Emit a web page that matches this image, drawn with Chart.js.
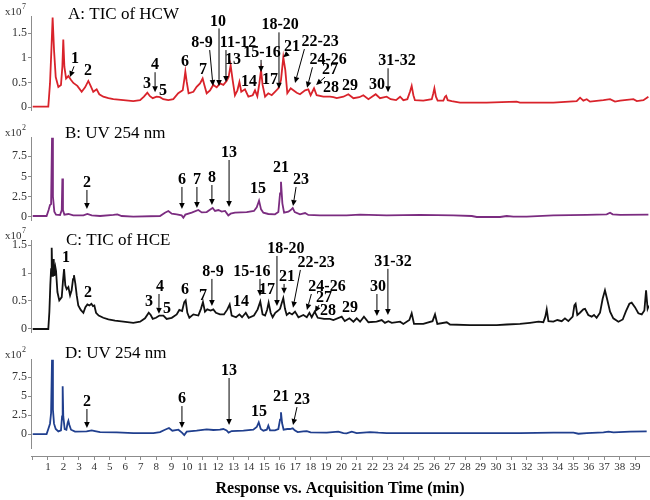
<!DOCTYPE html>
<html>
<head>
<meta charset="utf-8">
<script src="https://cdn.jsdelivr.net/npm/chart.js@4/dist/chart.umd.min.js"></script>
<style>
  body { margin: 0; background: #fff; }
  #wrap { position: relative; width: 650px; height: 500px; }
  #wrap canvas { position: absolute; left: 0; top: 0; }
</style>
</head>
<body>
<div id="wrap">
  <canvas id="chartA" width="650" height="500"></canvas>
  <canvas id="chartB" width="650" height="500"></canvas>
  <canvas id="chartC" width="650" height="500"></canvas>
  <canvas id="chartD" width="650" height="500"></canvas>
</div>
<script>
// retention time ticks (min)
const timeTicks = [0, 1, 2, 3, 4, 5, 6, 7, 8, 9, 10, 11, 12, 13, 14, 15, 16, 17, 18, 19, 20,
  21, 22, 23, 24, 25, 26, 27, 28, 29, 30, 31, 32, 33, 34, 35, 36, 37, 38, 39];
const ticTicks = [0, 0.5, 1, 1.5];   // x10^7
const uvTicks = [0, 2.5, 5, 7.5];    // x10^2

// [time, response]
const ticHCW = [[0.01,0.01],[1.02,0.01],[1.13,0.48],[1.22,1.16],[1.30,1.82],[1.39,1.16],[1.50,0.61],[1.67,0.41],
  [1.84,0.45],[1.93,0.82],[1.99,1.37],[2.06,0.82],[2.17,0.58],[2.32,0.63],[2.47,0.56],[2.64,0.49],[2.90,0.43],
  [3.18,0.31],[3.40,0.40],[3.61,0.53],[3.76,0.43],[3.93,0.31],[4.15,0.36],[4.32,0.26],[4.58,0.21],[4.91,0.18],
  [5.23,0.16],[5.88,0.14],[6.52,0.12],[6.96,0.14],[7.21,0.21],[7.43,0.29],[7.60,0.22],[7.78,0.18],[8.03,0.21],
  [8.25,0.20],[8.46,0.16],[8.79,0.14],[9.11,0.16],[9.43,0.28],[9.72,0.34],[9.82,0.55],[9.89,0.72],[9.98,0.51],
  [10.10,0.28],[10.41,0.31],[10.62,0.41],[10.84,0.48],[11.01,0.58],[11.12,0.45],[11.27,0.28],[11.49,0.34],
  [11.70,0.45],[11.92,0.40],[12.13,0.48],[12.35,0.45],[12.56,0.53],[12.69,0.61],[12.82,0.85],[12.95,0.55],
  [13.10,0.24],[13.26,0.34],[13.39,0.51],[13.51,0.31],[13.75,0.36],[13.97,0.21],[14.25,0.24],[14.40,0.34],
  [14.55,0.22],[14.68,0.48],[14.79,0.75],[14.89,0.45],[15.05,0.21],[15.26,0.28],[15.48,0.24],[15.69,0.31],
  [15.91,0.38],[16.08,0.55],[16.23,1.01],[16.36,0.75],[16.49,0.28],[16.71,0.38],[16.88,0.34],[17.10,0.29],
  [17.31,0.26],[17.64,0.34],[17.85,0.36],[18.00,0.24],[18.22,0.38],[18.39,0.24],[18.82,0.21],[19.25,0.21],
  [19.47,0.20],[19.69,0.18],[20.12,0.21],[20.44,0.26],[20.77,0.18],[21.15,0.20],[21.41,0.24],[21.74,0.16],
  [22.21,0.26],[22.49,0.18],[22.92,0.21],[23.18,0.16],[23.53,0.14],[23.79,0.21],[24.00,0.14],[24.26,0.16],
  [24.43,0.31],[24.54,0.43],[24.65,0.24],[24.75,0.14],[25.29,0.13],[25.84,0.16],[25.94,0.28],[26.01,0.38],
  [26.11,0.21],[26.22,0.13],[26.59,0.13],[26.70,0.21],[26.77,0.23],[26.87,0.14],[27.13,0.12],[27.67,0.09],
  [29.39,0.09],[31.33,0.11],[31.55,0.09],[33.71,0.09],[35.22,0.12],[35.44,0.19],[35.65,0.13],[35.87,0.16],
  [36.08,0.11],[36.95,0.14],[37.38,0.16],[37.70,0.11],[38.03,0.13],[38.89,0.16],[39.11,0.12],[39.54,0.14],
  [39.86,0.21]];

const uvHCW = [[0.01,0.12],[0.91,0.12],[1.04,0.86],[1.13,1.48],[1.20,1.60],[1.26,9.75],[1.32,2.50],[1.41,0.66],
  [1.52,0.29],[1.78,0.25],[1.89,0.86],[1.93,4.75],[1.97,0.86],[2.06,0.29],[2.32,0.37],[2.64,0.20],[3.29,0.20],
  [3.55,0.37],[3.83,0.20],[4.37,0.12],[5.23,0.25],[5.49,0.33],[5.77,0.12],[6.52,0.04],[8.25,0.12],[8.57,0.53],
  [8.79,0.74],[9.01,0.41],[9.33,0.33],[9.65,0.20],[9.76,-0.08],[9.89,0.29],[10.30,0.53],[10.73,0.86],
  [10.95,0.57],[11.27,0.61],[11.53,0.94],[11.66,1.11],[11.81,0.74],[12.03,0.86],[12.24,0.66],[12.46,0.74],
  [12.67,0.20],[12.82,0.41],[13.10,0.53],[13.86,0.61],[14.33,0.74],[14.51,1.19],[14.66,2.01],[14.79,0.94],
  [14.94,0.53],[15.26,0.37],[15.69,0.33],[15.91,0.61],[16.02,2.91],[16.08,4.34],[16.17,1.68],[16.28,0.53],
  [16.56,0.66],[16.71,0.86],[16.84,1.11],[16.97,0.61],[17.31,0.33],[17.64,0.49],[17.85,0.25],[18.60,0.20],
  [19.25,0.20],[20.33,0.20],[21.19,0.29],[22.92,0.20],[25.08,0.25],[27.24,0.20],[28.43,0.12],[28.75,0.0],
  [30.26,0.0],[30.69,0.12],[31.12,0.04],[31.98,0.04],[33.71,0.20],[35.87,0.25],[37.16,0.33],[37.38,0.53],
  [37.55,0.33],[38.03,0.25],[39.86,0.29]];

const ticHCE = [[0.01,0.0],[1.02,0.0],[1.09,0.31],[1.15,0.78],[1.20,1.07],[1.24,1.45],[1.28,0.95],[1.32,1.13],
  [1.37,1.25],[1.41,0.95],[1.48,1.10],[1.52,1.04],[1.61,0.66],[1.73,0.51],[1.89,0.57],[1.97,0.86],[2.04,1.07],
  [2.12,0.78],[2.21,0.71],[2.32,0.75],[2.43,0.60],[2.53,0.69],[2.62,0.89],[2.68,0.96],[2.77,0.81],[2.86,0.60],
  [2.96,0.42],[3.12,0.34],[3.29,0.29],[3.42,0.39],[3.55,0.44],[3.68,0.42],[3.81,0.45],[3.91,0.41],[4.00,0.42],
  [4.11,0.29],[4.28,0.24],[4.58,0.20],[4.91,0.17],[5.34,0.15],[5.88,0.13],[6.52,0.11],[6.96,0.13],[7.28,0.19],
  [7.52,0.29],[7.65,0.25],[7.78,0.18],[7.99,0.20],[8.21,0.24],[8.47,0.24],[8.68,0.18],[9.01,0.20],[9.33,0.26],
  [9.50,0.34],[9.68,0.32],[9.82,0.48],[9.91,0.51],[10.02,0.29],[10.15,0.20],[10.41,0.26],[10.73,0.24],
  [10.90,0.36],[11.03,0.48],[11.16,0.31],[11.31,0.35],[11.53,0.33],[11.70,0.35],[11.87,0.29],[12.13,0.26],
  [12.39,0.26],[12.61,0.35],[12.76,0.44],[12.89,0.24],[13.17,0.21],[13.39,0.26],[13.56,0.21],[13.80,0.29],
  [13.99,0.20],[14.33,0.24],[14.57,0.35],[14.74,0.49],[14.89,0.26],[15.05,0.24],[15.18,0.34],[15.28,0.47],
  [15.41,0.29],[15.54,0.21],[15.71,0.29],[15.86,0.32],[16.02,0.36],[16.15,0.48],[16.23,0.55],[16.34,0.36],
  [16.45,0.25],[16.62,0.29],[16.80,0.26],[16.99,0.31],[17.21,0.21],[17.53,0.25],[17.75,0.21],[17.92,0.29],
  [18.07,0.21],[18.26,0.31],[18.46,0.20],[18.87,0.18],[19.25,0.18],[19.47,0.16],[20.01,0.22],[20.21,0.14],
  [20.51,0.19],[20.77,0.13],[20.98,0.19],[21.20,0.13],[21.45,0.22],[21.74,0.12],[22.27,0.13],[22.60,0.16],
  [22.81,0.11],[23.03,0.14],[23.25,0.11],[23.79,0.13],[24.00,0.09],[24.39,0.16],[24.54,0.28],[24.69,0.09],
  [25.29,0.09],[25.89,0.14],[26.05,0.26],[26.20,0.09],[26.81,0.12],[27.02,0.08],[28.32,0.07],[30.04,0.07],
  [30.69,0.08],[31.55,0.09],[32.20,0.11],[32.75,0.13],[33.06,0.12],[33.19,0.22],[33.28,0.35],[33.39,0.14],
  [33.71,0.13],[33.97,0.16],[34.25,0.14],[34.46,0.19],[34.68,0.14],[34.96,0.22],[35.07,0.42],[35.15,0.45],
  [35.26,0.25],[35.43,0.29],[35.65,0.35],[35.76,0.36],[35.97,0.25],[36.19,0.22],[36.34,0.25],[36.51,0.20],
  [36.73,0.29],[36.90,0.54],[37.05,0.69],[37.21,0.51],[37.38,0.31],[37.59,0.19],[37.92,0.13],[38.20,0.17],
  [38.41,0.32],[38.63,0.45],[38.78,0.47],[38.99,0.39],[39.21,0.28],[39.43,0.26],[39.60,0.33],[39.71,0.69],
  [39.81,0.36],[39.90,0.42]];

const uvHCE = [[0.01,0],[0.91,0],[1.02,0.66],[1.13,1.36],[1.20,2.76],[1.26,9.78],[1.32,3.20],[1.39,1.36],
  [1.50,0.66],[1.67,0.35],[1.84,0.48],[1.91,2.32],[1.95,6.27],[1.99,2.32],[2.08,0.66],[2.19,0.57],[2.27,1.45],
  [2.32,1.75],[2.38,1.23],[2.49,0.57],[2.75,0.31],[3.50,0.35],[3.83,0.48],[4.04,0.39],[4.37,0.26],[5.45,0.22],
  [6.53,0.13],[7.82,0.13],[8.25,0.26],[8.57,0.57],[8.83,0.79],[9.05,0.44],[9.44,0.57],[9.67,0.18],[9.82,-0.13],
  [9.98,0.31],[10.62,0.44],[11.27,0.61],[11.70,0.53],[12.13,0.57],[12.35,0.66],[12.56,0.48],[12.69,0.18],
  [12.89,0.39],[13.65,0.44],[14.29,0.57],[14.51,0.92],[14.64,1.54],[14.77,0.66],[14.94,0.44],[15.16,0.57],
  [15.26,1.10],[15.37,0.48],[15.69,0.48],[15.91,0.66],[16.02,1.89],[16.08,2.85],[16.15,1.45],[16.25,0.57],
  [16.49,0.66],[16.66,0.66],[16.84,0.75],[16.97,0.48],[17.16,0.26],[17.53,0.35],[17.75,0.39],[18.00,0.22],
  [19.04,0.18],[19.79,0.31],[20.12,0.13],[20.33,0.09],[20.66,0.31],[20.98,0.13],[21.84,0.26],[22.38,0.18],
  [22.92,0.13],[25.08,0.13],[29.39,0.13],[31.55,0.13],[33.71,0.18],[35.01,0.18],[35.33,0.04],[35.87,0.13],
  [36.95,0.22],[37.28,0.31],[37.60,0.22],[38.68,0.31],[39.75,0.35]];

// peak labels: [text, label time, label value, arrow time, arrow value]
const peaksA = [
  ['1', 2.75, 0.97, 2.42, 0.61], ['2', 3.59, 0.73], ['3', 7.41, 0.47], ['4', 7.93, 0.85, 7.93, 0.30],
  ['5', 8.44, 0.32], ['6', 9.87, 0.91], ['7', 11.03, 0.75], ['8-9', 10.97, 1.30, 11.68, 0.43],
  ['10', 12.0, 1.74, 12.07, 0.43], ['11-12', 13.3, 1.30, 12.52, 0.51], ['13', 12.97, 0.95],
  ['14', 14.01, 0.51], ['15-16', 14.85, 1.10, 14.79, 0.71], ['17', 15.37, 0.55],
  ['18-20', 16.02, 1.66, 15.95, 0.37], ['21', 16.8, 1.22, 16.23, 1.01], ['22-23', 18.61, 1.32, 16.99, 0.49],
  ['24-26', 19.13, 0.95, 17.77, 0.39], ['27', 19.25, 0.75, 18.35, 0.45], ['28', 19.32, 0.39],
  ['29', 20.55, 0.43], ['30', 22.3, 0.45], ['31-32', 23.59, 0.93, 23.01, 0.30]
];
const peaksB = [
  ['2', 3.52, 4.19, 3.52, 0.99], ['6', 9.67, 4.56, 9.67, 0.99], ['7', 10.64, 4.56, 10.64, 1.1],
  ['8', 11.61, 4.8, 11.61, 1.48], ['13', 12.72, 7.88, 12.72, 1.23], ['15', 14.59, 3.45],
  ['21', 16.08, 6.03], ['23', 17.38, 4.56, 16.86, 1.35]
];
const peaksC = [
  ['1', 2.17, 1.27], ['2', 3.59, 0.64], ['3', 7.54, 0.48], ['4', 8.25, 0.75, 8.18, 0.27], ['5', 8.70, 0.36],
  ['6', 9.87, 0.70], ['7', 11.03, 0.59], ['8-9', 11.68, 1.02, 11.61, 0.41], ['14', 13.49, 0.48],
  ['15-16', 14.2, 1.02, 14.72, 0.59], ['17', 15.18, 0.70], ['18-20', 16.4, 1.43, 15.82, 0.41],
  ['21', 16.47, 0.93, 16.28, 0.63], ['22-23', 18.35, 1.18, 16.86, 0.38], ['24-26', 19.06, 0.75, 17.76, 0.34],
  ['27', 18.86, 0.55, 18.28, 0.30], ['28', 19.12, 0.32], ['29', 20.55, 0.375],
  ['30', 22.36, 0.75, 22.29, 0.23], ['31-32', 23.33, 1.20, 23.0, 0.25]
];
const peaksD = [
  ['2', 3.52, 4.21, 3.52, 0.79], ['6', 9.67, 4.6, 9.67, 0.79], ['13', 12.72, 8.29, 12.72, 1.18],
  ['15', 14.66, 2.89], ['21', 16.08, 4.87], ['23', 17.44, 4.47, 16.86, 1.18]
];

const FONT = '"Liberation Serif", "Times New Roman", serif';
const AXIS = '#8c8c8c';

const panels = [
  { id: 'chartA', title: 'A: TIC of HCW', titleX: 68, titleY: 15, exp: '7', data: ticHCW, peaks: peaksA,
    color: '#d9232b', yMin: -0.06, yMax: 1.85, yTicks: ticTicks, padTop: 16, padBottom: 390 },
  { id: 'chartB', title: 'B: UV 254 nm', titleX: 65, titleY: 134, exp: '2', data: uvHCW, peaks: peaksB,
    color: '#7b2c80', yMin: -0.37, yMax: 9.85, yTicks: uvTicks, padTop: 137, padBottom: 280 },
  { id: 'chartC', title: 'C: TIC of HCE', titleX: 66, titleY: 241, exp: '7', data: ticHCE, peaks: peaksC,
    color: '#111111', yMin: -0.054, yMax: 1.59, yTicks: ticTicks, padTop: 240, padBottom: 168 },
  { id: 'chartD', title: 'D: UV 254 nm', titleX: 65, titleY: 354, exp: '2', data: uvHCE, peaks: peaksD,
    color: '#203f8e', yMin: -2.89, yMax: 9.87, yTicks: uvTicks, padTop: 359, padBottom: 0,
    showX: true, axisEnd: -1.97 }
];

function drawArrow(ctx, sx, sy, tx, ty) {
  const a = Math.atan2(ty - sy, tx - sx);
  const len = 6, hw = 2.8;
  const bx = tx - len * Math.cos(a), by = ty - len * Math.sin(a);
  ctx.beginPath();
  ctx.moveTo(sx, sy);
  ctx.lineTo(bx, by);
  ctx.stroke();
  ctx.beginPath();
  ctx.moveTo(tx, ty);
  ctx.lineTo(bx + hw * Math.sin(a), by - hw * Math.cos(a));
  ctx.lineTo(bx - hw * Math.sin(a), by + hw * Math.cos(a));
  ctx.closePath();
  ctx.fill();
}

function decoPlugin(p) {
  return {
    id: 'deco',
    afterDraw(chart) {
      const ctx = chart.ctx, xs = chart.scales.x, ys = chart.scales.y, area = chart.chartArea;
      ctx.save();
      if (p.axisEnd != null) {
        ctx.strokeStyle = AXIS;
        ctx.lineWidth = 1;
        ctx.beginPath();
        ctx.moveTo(area.left + 0.5, ys.getPixelForValue(p.yMax));
        ctx.lineTo(area.left + 0.5, ys.getPixelForValue(p.axisEnd));
        ctx.stroke();
      }
      ctx.textBaseline = 'middle';
      ctx.textAlign = 'left';
      ctx.fillStyle = '#000';
      ctx.font = '17px ' + FONT;
      ctx.fillText(p.title, p.titleX, p.titleY);

      ctx.fillStyle = '#333';
      ctx.font = '11px ' + FONT;
      const ey = area.top - 4;
      ctx.fillText('x10', 5, ey);
      const w = ctx.measureText('x10').width;
      ctx.font = '8px ' + FONT;
      ctx.fillText(p.exp, 5 + w + 0.5, ey - 5);

      ctx.font = 'bold 16px ' + FONT;
      ctx.textAlign = 'center';
      ctx.fillStyle = '#000';
      ctx.strokeStyle = '#000';
      ctx.lineWidth = 1;
      p.peaks.forEach(([txt, lt, lv, at, av]) => {
        const lx = xs.getPixelForValue(lt), ly = ys.getPixelForValue(lv);
        ctx.fillText(txt, lx, ly);
        if (at == null) return;
        const tx = xs.getPixelForValue(at), ty = ys.getPixelForValue(av);
        const hw = Math.max(ctx.measureText(txt).width / 2 - 3, 0);
        const sx = Math.min(Math.max(tx, lx - hw), lx + hw);
        drawArrow(ctx, sx, ly + 7, tx, ty);
      });
      ctx.restore();
    }
  };
}

function makeChart(p) {
  return new Chart(document.getElementById(p.id), {
    type: 'line',
    data: {
      datasets: [{
        data: p.data.map(d => ({ x: d[0], y: d[1] })),
        borderColor: p.color,
        borderWidth: 1.8,
        pointRadius: 0,
        tension: 0,
        fill: false
      }]
    },
    options: {
      responsive: false,
      animation: false,
      devicePixelRatio: 1,
      events: [],
      layout: { padding: { top: p.padTop, bottom: p.padBottom, left: 0, right: 1 } },
      plugins: { legend: { display: false }, tooltip: { enabled: false } },
      scales: {
        x: {
          type: 'linear',
          min: -0.1,
          max: 39.9,
          display: !!p.showX,
          afterBuildTicks: s => { s.ticks = timeTicks.map(v => ({ value: v })); },
          afterFit: s => { if (p.showX) s.height = 44; },
          grid: { drawOnChartArea: false, drawTicks: true, tickLength: 4, color: AXIS },
          border: { color: AXIS },
          ticks: {
            autoSkip: false, maxRotation: 0, padding: 1, color: '#333',
            font: { family: FONT, size: 11 },
            callback: v => (v === 0 ? '' : String(v))
          },
          title: {
            display: true,
            text: 'Response vs. Acquisition Time (min)',
            color: '#000',
            font: { family: FONT, size: 16, weight: 'bold' },
            padding: { top: 0, bottom: 2 }
          }
        },
        y: {
          min: p.yMin,
          max: p.yMax,
          afterBuildTicks: s => { s.ticks = p.yTicks.map(v => ({ value: v })); },
          afterFit: s => { s.width = 31; },
          grid: { drawOnChartArea: false, drawTicks: true, tickLength: 3, color: AXIS },
          border: { display: p.axisEnd == null, color: AXIS },
          ticks: {
            autoSkip: false, padding: 1, color: '#333',
            font: { family: FONT, size: 12 },
            callback: v => String(v)
          }
        }
      }
    },
    plugins: [decoPlugin(p)]
  });
}

panels.forEach(makeChart);
</script>
</body>
</html>
